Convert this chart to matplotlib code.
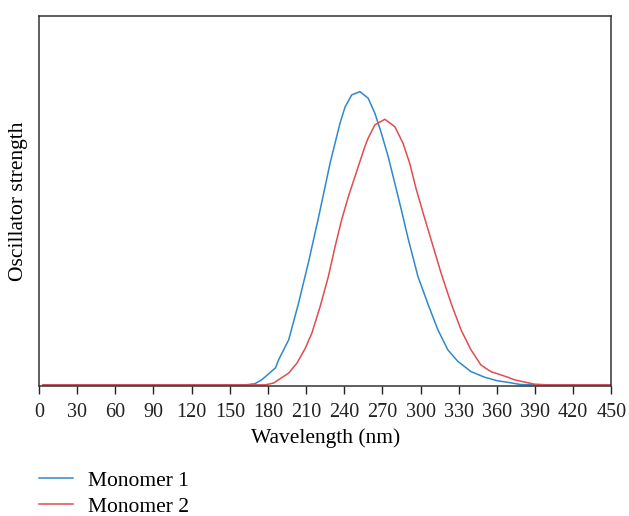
import numpy as np
import matplotlib
matplotlib.use('Agg')
import matplotlib.pyplot as plt

plt.rcParams['font.family'] = ['Liberation Serif', 'DejaVu Serif']

# wavelength (nm) / oscillator strength (arb. units)
wl_m1 = [3, 162.4, 169.7, 175.2, 180.6, 185.9, 188.4, 196.3, 204.1, 211.9,
         219.7, 224.9, 228.9, 232.8, 236.7, 240.6, 245.8, 252.3, 258.8, 264.1,
         269.2, 274.5, 279.7, 284.9, 290.1, 297.9, 305.7, 313.5, 321.4, 329.2,
         339.6, 350.1, 360.5, 368.3, 378.5, 391.7, 450]
os_m1 = [0, 0, 0.003, 0.014, 0.030, 0.046, 0.068, 0.122, 0.222, 0.333,
         0.453, 0.537, 0.602, 0.656, 0.710, 0.753, 0.786, 0.795, 0.777, 0.736,
         0.682, 0.619, 0.547, 0.474, 0.398, 0.294, 0.220, 0.150, 0.095, 0.064,
         0.036, 0.021, 0.011, 0.007, 0.001, 0, 0]

wl_m2 = [3, 178.0, 184.5, 188.4, 196.3, 202.8, 209.3, 214.5, 221.0, 227.5,
         232.8, 237.9, 243.2, 251.0, 256.2, 258.8, 264.1, 271.9, 279.7, 286.2,
         291.4, 296.6, 301.8, 308.3, 316.1, 324.0, 331.8, 339.6, 347.4, 355.2,
         363.1, 368.3, 373.5, 389.2, 399.6, 450]
os_m2 = [0, 0, 0.005, 0.014, 0.032, 0.059, 0.099, 0.140, 0.212, 0.294,
         0.375, 0.447, 0.510, 0.592, 0.646, 0.669, 0.705, 0.720, 0.700, 0.655,
         0.601, 0.530, 0.468, 0.393, 0.303, 0.221, 0.149, 0.095, 0.054, 0.036,
         0.027, 0.021, 0.014, 0.002, 0, 0]

xticks = np.arange(0, 451, 30)

fig = plt.figure(figsize=(6.29, 5.16), dpi=100)
ax = fig.add_axes([0.062, 0.252, 0.910, 0.717])

ax.plot(wl_m1, os_m1, color='#2f88cf', lw=1.1, solid_joinstyle='round',
        label='Monomer 1')
ax.plot(wl_m2, os_m2, color='#e04c50', lw=1.1, solid_joinstyle='round',
        label='Monomer 2')

ax.set_xlim(0, 450)
ax.set_ylim(-0.003, 1.0)
ax.set_xticks(xticks)
ax.set_yticks([])
ax.tick_params(axis='x', direction='out', length=6, width=1, pad=6,
               labelsize=14.5, colors='#222222')
for s in ax.spines.values():
    s.set_color('#333333')
    s.set_linewidth(1.1)

ax.set_xlabel('Wavelength (nm)', fontsize=15.5, labelpad=5)
ax.set_ylabel('Oscillator strength', fontsize=15.5, labelpad=8)

fig.legend(loc='upper left', bbox_to_anchor=(0.062, 0.088), frameon=False,
           fontsize=15.5, borderpad=0, borderaxespad=0, handlelength=1.58,
           handletextpad=0.7, labelspacing=0.27)

fig.savefig('out.png', dpi=100)
